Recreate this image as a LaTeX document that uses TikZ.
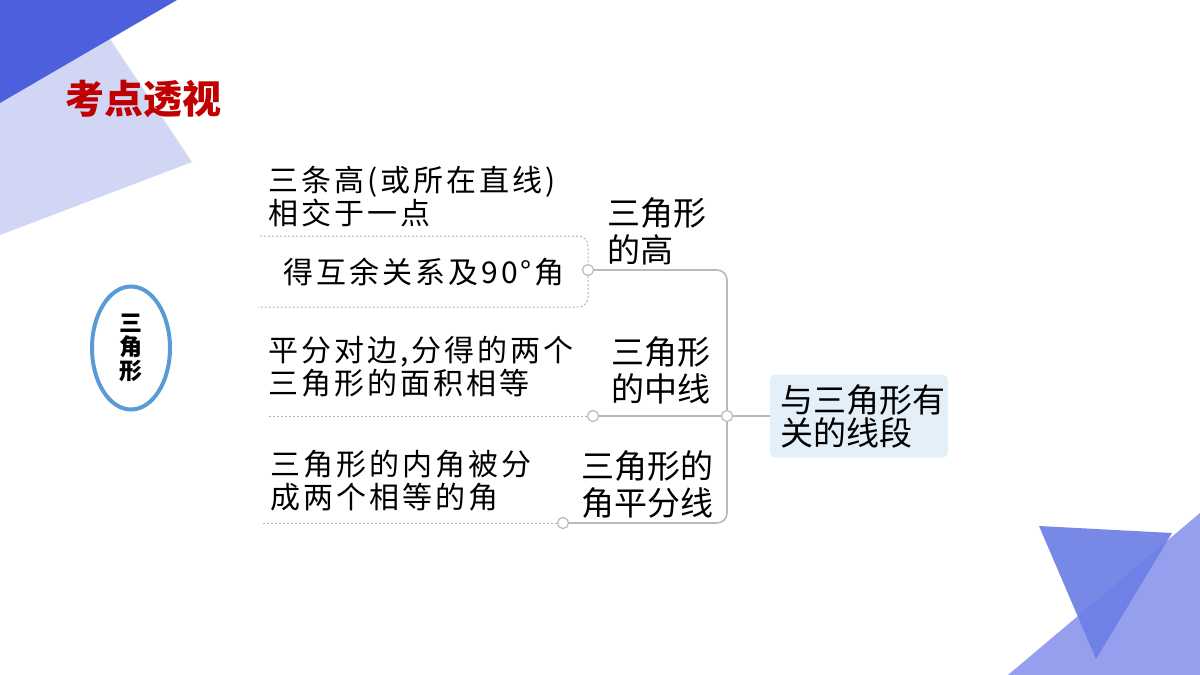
\documentclass[tikz,border=0pt]{standalone}
\usepackage{fontspec}
\setmainfont{Noto Sans CJK SC}
\newfontfamily\cjk[LetterSpace=10]{Noto Sans CJK SC}
\usetikzlibrary{positioning,shapes.geometric}
\definecolor{deepblue}{RGB}{76,96,222}
\definecolor{paleblue}{RGB}{210,214,245}
\definecolor{lilac}{RGB}{150,158,238}
\definecolor{midblue}{RGB}{108,126,230}
\definecolor{titlered}{RGB}{192,0,0}
\definecolor{ringblue}{RGB}{91,155,213}
\definecolor{rootfill}{RGB}{227,240,250}
\definecolor{linegray}{RGB}{185,185,185}
\tikzset{
  leaf/.style={anchor=west,align=left,inner sep=0pt,font=\cjk\fontsize{15}{16.5}\selectfont},
  branch/.style={align=left,inner sep=0pt,font=\fontsize{16.5}{18.5}\selectfont},
  knob/.style={circle,draw=linegray,fill=white,line width=0.6pt,inner sep=0pt,minimum size=5.5pt},
  link/.style={draw=linegray,line width=0.8pt},
  dotline/.style={draw=gray!60,line width=0.5pt,dash pattern=on 1pt off 1pt},
}
\begin{document}
\begin{tikzpicture}[x=0.5pt,y=-0.5pt]
\useasboundingbox (0,0) rectangle (1200,675);
\fill[white] (0,0) rectangle (1200,675);
\fill[paleblue] (0,0)--(110,39)--(192,162)--(0,235)--cycle;
\fill[deepblue] (0,0)--(177,0)--(0,103)--cycle;
\fill[lilac] (1008,675)--(1200,513)--(1200,675)--cycle;
\fill[midblue,opacity=0.92] (1039,526)--(1172,533)--(1096,659)--cycle;
\node[font=\bfseries\fontsize{19.5}{20}\selectfont,text=titlered,inner sep=0pt] (title) at (143,99) {考点透视};
\node[ellipse,draw=ringblue,line width=2pt,minimum width=39pt,minimum height=61.5pt,inner sep=0pt,
  align=center,font=\bfseries\fontsize{11.5}{12}\selectfont] (topic) at (131,348) {三\\角\\形};
\node[rounded corners=3pt,fill=rootfill,minimum width=89pt,minimum height=41.5pt,inner sep=0pt] (root) at (859,416) {};
\node[anchor=west,align=left,inner sep=0pt,font=\fontsize{16.5}{16.5}\selectfont] (rootText) at (780,416) {与三角形有\\关的线段};
\node[branch] (hA) at (657,231) {三角形\\的高};
\node[branch,align=right] (mA) at (661,370) {三角形\\的中线};
\node[branch] (bA) at (647,485) {三角形的\\角平分线};
\node[leaf] (h1) at (268,197) {三条高(或所在直线)\\相交于一点};
\node[leaf] (h2) at (283,272) {得互余关系及90°角};
\node[leaf] (m1) at (268,367) {平分对边,分得的两个\\三角形的面积相等};
\node[leaf] (b1) at (270,481) {三角形的内角被分\\成两个相等的角};
\node[knob] (cR) at (727,416) {};
\node[knob] (cH) at (588,270) {};
\node[knob] (cM) at (593,416) {};
\node[knob] (cB) at (563,523) {};
\coordinate (hTop) at (260,236);
\coordinate (hBot) at (258,307);
\coordinate (mEnd) at (268,416);
\coordinate (bEnd) at (262,523);
\draw[link] (root.west) -- (cR.east);
\draw[link] (cR.west) -- (cM.east);
\draw[link,rounded corners=5pt] (cR.north) |- (cH.east);
\draw[link,rounded corners=5pt] (cR.south) |- (cB.east);
\draw[dotline,rounded corners=5pt] (hTop) -| (cH.north);
\draw[dotline,rounded corners=5pt] (cH.south) |- (hBot);
\draw[dotline] (cM.west) -- (mEnd);
\draw[dotline] (cB.west) -- (bEnd);
\end{tikzpicture}
\end{document}
